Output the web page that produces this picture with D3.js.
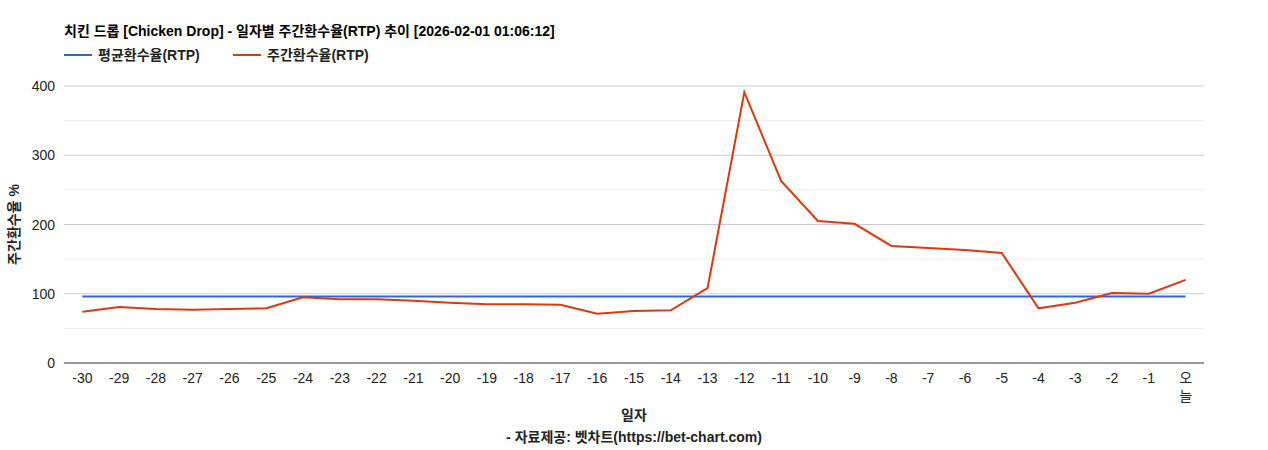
<!DOCTYPE html>
<html><head><meta charset="utf-8">
<script src="https://cdn.jsdelivr.net/npm/d3@7"></script>
<style>body{margin:0;background:#fff;font-family:"Liberation Sans",Arial,"Noto Sans CJK KR",sans-serif}</style>
</head><body><div id="chart"></div>
<script>
var days = ["-30","-29","-28","-27","-26","-25","-24","-23","-22","-21","-20","-19","-18","-17","-16","-15","-14","-13","-12","-11","-10","-9","-8","-7","-6","-5","-4","-3","-2","-1","오늘"];
var weekly = [74,81,78,77,78,79,95,92,92,90,87,85,85,84,71,75,76,108,391,263,205,201,169,166,163,159,79,87,101,100,120];
var avg = days.map(function(){ return 96; });
var yTicks = [0,100,200,300,400];
var font = '"Liberation Sans",Arial,"Noto Sans CJK KR",sans-serif';

var W = 1268, H = 450, L = 64, R = 1204, T = 86, B = 363;
var svg = d3.select("#chart").append("svg").attr("width", W).attr("height", H);

var x = d3.scalePoint().domain(days).range([L, R]).padding(0.5);
var y = d3.scaleLinear().domain([0, 400]).range([B, T]);

// minor grid
svg.append("g").selectAll("line").data([50,150,250,350]).enter().append("line")
  .attr("x1", L).attr("x2", R).attr("y1", y).attr("y2", y).attr("stroke", "#ebebeb");
// major grid
svg.append("g").selectAll("line").data(yTicks.slice(1)).enter().append("line")
  .attr("x1", L).attr("x2", R).attr("y1", y).attr("y2", y).attr("stroke", "#cccccc");
svg.append("line").attr("x1", L).attr("x2", R).attr("y1", B).attr("y2", B).attr("stroke", "#333");

svg.append("g").selectAll("text").data(yTicks).enter().append("text")
  .attr("x", L - 9).attr("y", function(d){ return y(d) + 5; }).attr("text-anchor", "end")
  .style("font", "14px " + font).attr("fill", "#222").text(function(d){ return d; });

var xl = svg.append("g").selectAll("text").data(days).enter().append("text")
  .attr("x", function(d){ return x(d); }).attr("y", 383).attr("text-anchor", "middle")
  .style("font", "14px " + font).attr("fill", "#222");
xl.each(function(d){
  var t = d3.select(this);
  if (d.length > 1 && d[0] !== "-") {
    t.append("tspan").attr("x", x(d)).text(d[0]);
    t.append("tspan").attr("x", x(d)).attr("dy", 18).text(d.slice(1));
  } else t.text(d);
});

var line = d3.line().x(function(d, i){ return x(days[i]); }).y(function(d){ return y(d); });
svg.append("path").datum(avg).attr("d", line).attr("fill", "none").attr("stroke", "#3366cc").attr("stroke-width", 2);
svg.append("path").datum(weekly).attr("d", line).attr("fill", "none").attr("stroke", "#dc3912").attr("stroke-width", 2);

svg.append("text").attr("x", L).attr("y", 36).style("font", "bold 14px " + font).attr("fill", "#000")
  .text("치킨 드롭 [Chicken Drop] - 일자별 주간환수율(RTP) 추이 [2026-02-01 01:06:12]");

var leg = [["평균환수율(RTP)", "#3366cc", 64], ["주간환수율(RTP)", "#dc3912", 233]];
leg.forEach(function(l){
  svg.append("line").attr("x1", l[2]).attr("x2", l[2] + 28).attr("y1", 55).attr("y2", 55).attr("stroke", l[1]).attr("stroke-width", 2);
  svg.append("text").attr("x", l[2] + 34).attr("y", 60).style("font", "bold 14px " + font).attr("fill", "#222").text(l[0]);
});

svg.append("text").attr("transform", "translate(19," + ((T + B) / 2) + ") rotate(-90)").attr("text-anchor", "middle")
  .style("font", "bold 14px " + font).attr("fill", "#222").text("주간환수율 %");
svg.append("text").attr("x", (L + R) / 2).attr("y", 420).attr("text-anchor", "middle")
  .style("font", "bold 14px " + font).attr("fill", "#222").text("일자");
svg.append("text").attr("x", (L + R) / 2).attr("y", 442).attr("text-anchor", "middle")
  .style("font", "bold 14px " + font).attr("fill", "#222").text("- 자료제공: 벳차트(https://bet-chart.com)");
</script></body></html>
